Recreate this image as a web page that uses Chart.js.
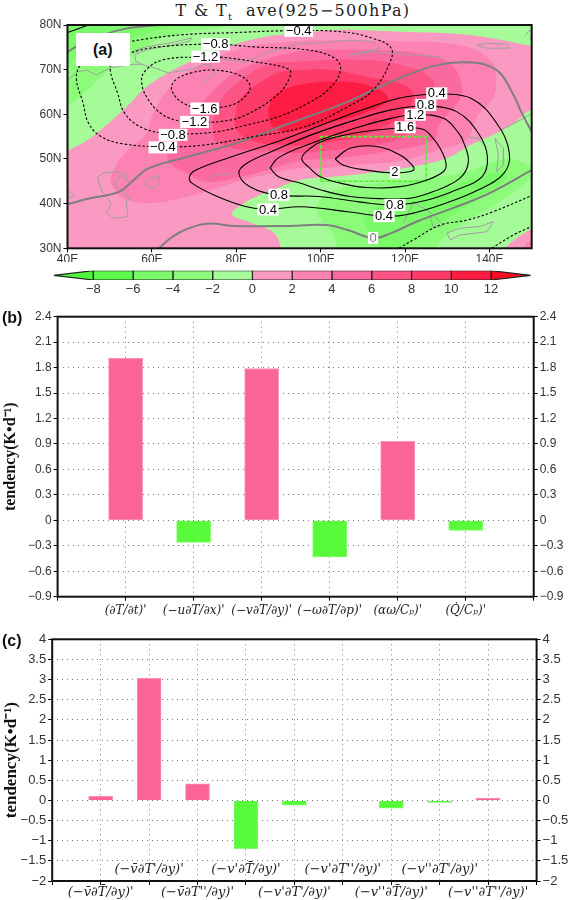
<!DOCTYPE html>
<html>
<head>
<meta charset="utf-8">
<title>T and Tt ave</title>
<script src="https://cdn.jsdelivr.net/npm/chart.js@4/dist/chart.umd.min.js"></script>
<style>
  body { margin: 0; background: #fff; width: 568px; height: 900px; position: relative; overflow: hidden; }
  canvas { position: absolute; left: 0; }
  .tag { position: absolute; font: bold 16px "Liberation Sans", sans-serif; color: #111; }
  #mapTitle { position: absolute; left: 0; width: 586px; top: 1px; text-align: center; white-space: pre; font: 16px "DejaVu Serif", serif; letter-spacing: 1.3px; color: #222; line-height: 19px; }
  #mapTitle sub { font-size: 10px; line-height: 0; }
  #boxA { position: absolute; left: 75.5px; top: 32.5px; width: 54.5px; height: 33.5px; background: #fff; text-align: center; font: bold 16px/33px "Liberation Sans", sans-serif; color: #111; }
</style>
</head>
<body>
<div id="mapTitle">T &amp; T<sub>t</sub>  ave(925−500hPa)</div>
<canvas id="mapChart" width="568" height="262" style="top:0"></canvas>
<canvas id="barScale" width="568" height="38" style="top:262px"></canvas>
<canvas id="chartB" width="568" height="320" style="top:300px"></canvas>
<canvas id="chartC" width="568" height="280" style="top:620px"></canvas>
<div id="boxA">(a)</div>
<div class="tag" style="left:2px;top:309px">(b)</div>
<div class="tag" style="left:2px;top:632px">(c)</div>

<script>
// colour bar
const shadeTicks = [-8, -6, -4, -2, 0, 2, 4, 6, 8, 10, 12];
const shadeColors = ['#5cf84a', '#7bfa69', '#8bfb79', '#a5fb98', '#fa9ac2', '#fb82b2', '#fb6a9e', '#fc5485', '#fd3a68', '#fe1c42'];
const shadeLow = '#4ff53c';
const shadeHigh = '#fd0a20';

// map axes
const lonTicks = [40, 60, 80, 100, 120, 140];
const latTicks = [30, 40, 50, 60, 70, 80];

// shaded regions, [lon, lat]
const paleGreen = [[30, 25], [160, 25], [160, 85], [30, 85], [30, 25]];
const greenTop2 = [[38, 60], [40, 61.6], [46.1, 66.6], [50.9, 70.7], [56.4, 73.7], [61.9, 77], [71.4, 78.9], [77.7, 80], [78, 83], [38, 83], [38, 60]];
const greenTop4 = [[38, 70], [40, 71], [43, 73.7], [55.2, 77], [60.3, 78.5], [65, 80], [65, 83], [38, 83], [38, 70]];
const greenLow2 = [[98.7, 39.3], [102.2, 42.7], [110.9, 44.3], [122.8, 45.3], [134.6, 47.2], [144.1, 50], [149.6, 48.3], [150, 46], [142.5, 40.5], [134.6, 36], [129.9, 33], [125.5, 29.6], [105, 29.6], [102.6, 33.7], [99.9, 36.7], [98.7, 39.3]];
const greenLow4 = [[110.1, 36.7], [112.9, 39.1], [119.6, 40.8], [129.1, 43.1], [137, 45.7], [143.3, 47.2], [144.1, 45.7], [137, 40.8], [129.9, 36.7], [123.6, 33], [118.8, 30], [114.1, 30.4], [111.7, 33], [110.1, 36.7]];
const pink0 = [[38, 50.5], [40, 51.8], [45.3, 54.6], [54, 61.7], [58.8, 66.2], [66.7, 70.7], [76.9, 74.8], [87.2, 77.4], [95.1, 78.1], [103, 78.9], [118.8, 78.5], [134.6, 77.8], [150, 75.3], [156, 74], [156, 62], [150, 61.1], [145.7, 58], [140.9, 55.4], [135.4, 53.1], [129.9, 50.2], [122, 48.3], [110.9, 46.8], [103, 46], [95.1, 45.3], [88.8, 43.1], [82.5, 40.5], [79, 37.6], [83.3, 35.8], [88, 34.1], [90, 31.9], [90, 28], [38, 28], [38, 50.5]];
const pinkCorner0 = [[143, 28], [143.5, 30], [150, 34.5], [156, 38], [156, 28], [143, 28]];
const pinkCorner2 = [[147.5, 28], [148, 30.2], [150, 31.7], [156, 34], [156, 28], [147.5, 28]];
const pink2 = [[50.1, 45.7], [52, 49.4], [55.2, 52.8], [58.4, 55.4], [60.3, 60.2], [65.1, 66.9], [72.2, 71.4], [80.1, 74.4], [88.8, 76], [103, 76.6], [118.8, 76.3], [133, 75.5], [140.2, 72.2], [141.5, 68.4], [141, 64], [137, 59.5], [134.6, 54.3], [129.1, 52.4], [118.8, 49.6], [107, 48.6], [99.9, 47.9], [95.1, 48], [84.8, 46], [77.7, 44.2], [71.4, 42.3], [65.1, 40.8], [59.5, 40.1], [53.2, 41.2], [50.5, 44.2], [50.1, 45.7]];
const pink4 = [[63.5, 51.3], [64.3, 49], [67.5, 47.2], [73, 44.9], [80.9, 46], [87.2, 47.5], [95.1, 49.6], [103, 50.1], [114.9, 51.6], [126.7, 54.2], [128.3, 58], [132.3, 62.5], [133.5, 66.2], [130.7, 71.4], [122.8, 73.7], [110.9, 74.4], [99.9, 74.4], [92.7, 73.7], [82.5, 70.7], [75.4, 66.2], [69, 58.7], [65.9, 54.5], [63.5, 51.3]];
const pink6 = [[74.6, 54.3], [74.6, 58], [75.5, 62], [79, 66], [87, 71], [95.1, 71.8], [109.9, 72.2], [120.2, 70.7], [126.2, 68.1], [126.7, 64.3], [124.5, 61], [121, 56], [114.9, 53.5], [103, 52], [95.1, 51.3], [88, 51.8], [78.9, 52.4], [74.6, 54.3]];
const pink8 = [[79.8, 60.2], [80.6, 63], [83.2, 65.5], [89.6, 69.2], [95.1, 69.9], [103, 69.9], [110.9, 68.4], [118.8, 66.9], [122, 64.3], [118.8, 59.5], [110.9, 55.6], [103, 53.9], [95.1, 53.1], [88, 53.3], [83.2, 54.3], [79.8, 56.9], [79.8, 60.2]];
const pink10 = [[87.5, 61], [89.2, 64.3], [95.3, 66.6], [105.6, 67.3], [113.3, 65.8], [115.9, 63.2], [109.9, 60.2], [101.3, 58], [91.8, 56.1], [88.4, 57.6], [87.5, 61]];

// dashed contours
const negA = [[62.6, 52.6], [53.1, 53.4], [48, 55], [45, 58], [43.7, 62.5], [42.1, 68.1], [43.3, 71.4], [47.1, 74.8], [54.7, 76.3], [66.9, 77.8], [79.8, 78.3], [91.8, 78.7], [104.7, 78.5], [112.4, 77], [116.7, 74.8], [116.3, 71.4], [112.4, 65.4], [106.4, 61.7], [96.1, 57.2], [84.1, 55], [72.1, 53.1], [62.6, 52.6]];
const negB = [[65, 55.4], [57.9, 56.9], [53.6, 60.2], [51.9, 64.7], [50.1, 70.3], [51.4, 72.2], [54.7, 73.7], [61.7, 75.1], [75.1, 75.7], [84.1, 75.1], [97, 74.4], [103.4, 72.5], [104.7, 69.9], [102.1, 65.8], [97, 62.5], [90.1, 59.5], [82.4, 57.6], [75.5, 56.1], [65, 55.4]];
const negC = [[72.7, 72.9], [62.6, 72.2], [58.3, 69.6], [57.6, 66.9], [59.2, 63.2], [62.6, 59.9], [66.9, 58.4], [70.1, 58.3], [76.4, 58.4], [82.4, 59.9], [90.1, 64.7], [92.7, 68.4], [92.5, 70.1], [84.1, 71.8], [76.4, 72.8], [72.7, 72.9]];
const negD = [[72.5, 61.3], [67.8, 62.3], [64.7, 65.4], [65.6, 67.7], [69.5, 69.3], [74.6, 69.9], [80.6, 68.8], [83.2, 66.6], [82.4, 64.3], [78.9, 62.1], [72.5, 61.3]];
const negE = [[118.5, 30], [122, 31.9], [128.3, 35.2], [134.6, 36.3], [140.9, 38.2], [150, 41.8]];
const negF = [[140.5, 30], [145.7, 33], [150, 34.9]];

// solid contours
const posA = [[127.5, 64.7], [135.6, 63.6], [141.7, 58], [144.7, 51.3], [143.4, 46.8], [137.4, 43.1], [129.6, 40.1], [120.2, 37.5], [115, 37.2], [106.4, 38.2], [95.3, 39.3], [87.5, 38.7], [82.4, 39.3], [75.5, 41.6], [69.5, 44.6], [68.9, 46], [70.3, 47.5], [78.9, 50.5], [91, 54.3], [101.3, 58], [109.9, 61], [118.5, 63.6], [127.5, 64.7]];
const posB = [[124.9, 62.1], [132.2, 60.6], [137.4, 55.7], [139.5, 50.5], [138.2, 46], [132.2, 43.1], [125.3, 40.8], [117.6, 39.7], [109, 40.4], [99.6, 41.6], [90.1, 41.9], [83.2, 43.8], [80.6, 46.8], [82.4, 49], [89.2, 52], [97.8, 55.4], [108.1, 58.7], [116.7, 61], [124.9, 62.1]];
const posC = [[88, 48], [90, 50.3], [97.8, 53.5], [108, 56.9], [116.7, 59.1], [122.4, 59.9], [129.1, 59.1], [132.7, 55.8], [133.8, 53.9], [135, 49.4], [133, 45.7], [126.7, 42.7], [121.2, 41.2], [114.9, 41.1], [107, 41.6], [99.9, 43.1], [95.1, 44.6], [90, 46], [88, 48]];
const posD = [[120, 57.1], [124.4, 56.6], [126.3, 55], [128.3, 52.4], [129.7, 49], [129.1, 47.2], [125.2, 45.3], [118.8, 43.8], [110.9, 43.6], [104.6, 44.6], [99.9, 46], [97.5, 47.9], [95.5, 50.1], [97.5, 52.4], [101.3, 54.3], [109.9, 56.1], [120, 57.1]];
const posE = [[103.4, 50], [107, 52.4], [113.3, 52.8], [118.8, 50.9], [121.6, 48.7], [122, 47.5], [117.5, 46.9], [110.9, 47.5], [105.4, 48.6], [103.4, 50]];
const posCorner = [[40, 78.3], [45, 80]];

// zero contours
const zeroMain = [[40, 39.9], [45.4, 41.2], [52.3, 42.7], [55.7, 45.3], [59.2, 47.9], [66.9, 50.1], [79.8, 53.5], [92.7, 58], [105.6, 62.5], [116.7, 67.3], [127.1, 70.9], [135.6, 71.6], [141.7, 69.9], [145.1, 65.4], [147.7, 60.2], [150, 56.1]];
const zeroLow = [[61.7, 30], [64.3, 32.2], [67.8, 34.1], [72.9, 35.5], [79.8, 35], [92.7, 35], [101.3, 35.2], [106.4, 34.1], [112.4, 32.3], [116.7, 33.4], [122.8, 36], [131.3, 39], [139.9, 42.3], [150, 47.5]];
const zeroTop = [[40, 74], [42.2, 75.2], [48.5, 77.8], [54.4, 79.3], [61.9, 80]];

// coast and lakes
const coastLines = [
  [[55.2, 74], [59, 75.2], [64.6, 76], [69.4, 77.1], [69, 76.4], [65.4, 75.6], [59, 74.5], [55.9, 73.4], [56.2, 71.9], [57.5, 71.2], [60.6, 70.4], [63.8, 69.3], [67, 69.7], [70.2, 70.4], [72.6, 71.2], [74.1, 70.8], [75, 69], [73.4, 68.2], [72.6, 67]],
  [[40, 67.6], [42.2, 69.5], [44.5, 69.9], [46.9, 68.8], [50.1, 70.4], [55.6, 71.2], [58, 71.2]],
  [[75.4, 72.7], [81.7, 71.6], [87.2, 73.8], [95.1, 75.9]],
  [[95.1, 75.9], [99, 75.9], [107, 76.6], [112.5, 76.2], [114, 74.8], [107, 73.3], [112.5, 74], [118.8, 73.6], [123.5, 73.2], [128.3, 72.9], [129.5, 71.4], [134.6, 71.8], [139.4, 71.4]],
  [[137, 75.5], [139.4, 75.9], [144.1, 75.7], [144.9, 74.8], [139.4, 74.8], [137, 75.5]],
  [[148.5, 77.7], [149.5, 78.8], [150, 78.1], [149.7, 76.6]],
  [[150, 60.1], [145.7, 57.9], [142.5, 56.4]],
  [[47.1, 46], [48.4, 46.8], [51.5, 47.2], [53.9, 46.4], [54.3, 45], [52.5, 46.4], [51, 44.2], [53.9, 41.9], [55, 41.2], [53.9, 40.4], [54.3, 37.1], [51.2, 36.7], [49.2, 37.8], [50.4, 40], [48, 43], [47.1, 46]],
  [[58.4, 44.9], [61.5, 46.4], [61.9, 44.9], [60.4, 43.4], [58.4, 44.2], [58.4, 44.9]],
  [[73.6, 45.7], [75.4, 46.6], [79.3, 46.6]],
  [[40, 43], [41.6, 41.9], [40, 40.8]],
  [[135, 55], [137.5, 54.6], [139.4, 52.4]],
  [[141.3, 54.6], [143.3, 52.4], [143.3, 48.7], [141.7, 47.2], [142.1, 50.9], [141.3, 54.6]],
  [[119.6, 35.6], [122, 40.4], [126.3, 37.8], [129.1, 35.2], [126.7, 34.5], [125.9, 37.4]],
  [[129.9, 33.4], [133, 34.5], [137.8, 34.9], [140.9, 36], [139.4, 33.7], [133, 33], [130.7, 31.9], [129.9, 33.4]]
];

// contour labels
const labelText = ['−0.4', '−0.8', '−1.2', '−1.6', '−1.2', '−0.8', '−0.4', '0.4', '0.8', '1.2', '1.6', '2', '0.8', '0.4', '0.8', '0.4', '0'];
const labelLon = [94.8, 75.1, 72.7, 72.5, 70.1, 65, 62.6, 127.5, 124.9, 122.4, 120, 117.6, 90.1, 87.5, 117.6, 115, 112.4];
const labelLat = [78.7, 75.7, 72.9, 61.3, 58.3, 55.4, 52.6, 64.7, 62.1, 59.9, 57.1, 47, 42, 38.7, 39.7, 37.2, 32.3];

// study box
const studyBox = [[100, 45], [125, 45], [125, 55], [100, 55], [100, 45]];

// panel b
const labelsB = ['(∂T/∂t)\'', '(−u∂T/∂x)\'', '(−v∂T/∂y)\'', '(−ω∂T/∂p)\'', '(αω/Cₚ)\'', '(Q̇/Cₚ)\''];
const valuesB = [1.91, -0.26, 1.79, -0.43, 0.93, -0.12];
const ticksB = [-0.9, -0.6, -0.3, 0, 0.3, 0.6, 0.9, 1.2, 1.5, 1.8, 2.1, 2.4];

// panel c
const labelsC = ['(−v̄∂T̄/∂y)\'', '(−v̄∂T\'/∂y)\'', '(−v̄∂T\'\'/∂y)\'', '(−v\'∂T̄/∂y)\'', '(−v\'∂T\'/∂y)\'', '(−v\'∂T\'\'/∂y)\'', '(−v\'\'∂T̄/∂y)\'', '(−v\'\'∂T\'/∂y)\'', '(−v\'\'∂T\'\'/∂y)\''];
const valuesC = [0.1, 3.03, 0.41, -1.2, -0.12, -0.015, -0.19, -0.05, 0.05];
const ticksC = [-2, -1.5, -1, -0.5, 0, 0.5, 1, 1.5, 2, 2.5, 3, 3.5, 4];

const PINK = '#fb6499';
const GREEN = '#57fb3a';
const TICK_TEXT = '#333';
const sansFont = { family: '"Liberation Sans", sans-serif', size: 12 };

const pts = list => list.map(([x, y]) => ({ x, y }));
const minusSign = v => String(v).replace('-', '−');
const fixTicks = values => scale => { scale.ticks = values.map(value => ({ value })); };

const frame = {
    id: 'frame',
    afterDatasetsDraw(chart) {
        const { ctx, chartArea: a } = chart;
        ctx.save();
        ctx.strokeStyle = '#111';
        ctx.lineWidth = 2;
        ctx.strokeRect(a.left, a.top, a.right - a.left, a.bottom - a.top);
        ctx.restore();
    }
};

// ---- map
const shade = (data, color) => ({ data: pts(data), showLine: true, fill: 'shape', backgroundColor: color, borderWidth: 0, pointRadius: 0, tension: 0.4 });
const contour = (data, dash) => ({ data: pts(data), showLine: true, borderColor: '#000', borderWidth: 1.1, borderDash: dash, pointRadius: 0, tension: 0.4 });
const zero = data => ({ data: pts(data), showLine: true, borderColor: '#7f7f7f', borderWidth: 2, pointRadius: 0, tension: 0.4 });

const mapSets = [
    shade(paleGreen, shadeColors[3]),
    shade(greenTop2, shadeColors[2]),
    shade(greenTop4, shadeColors[1]),
    shade(greenLow2, shadeColors[2]),
    shade(greenLow4, shadeColors[1]),
    shade(pink0, shadeColors[4]),
    shade(pinkCorner0, shadeColors[4]),
    shade(pinkCorner2, shadeColors[5]),
    shade(pink2, shadeColors[5]),
    shade(pink4, shadeColors[6]),
    shade(pink6, shadeColors[7]),
    shade(pink8, shadeColors[8]),
    shade(pink10, shadeColors[9])
];
coastLines.forEach(line => {
    mapSets.push({ data: pts(line), showLine: true, borderColor: '#a0a0a0', borderWidth: 1, pointRadius: 0, tension: 0 });
});
mapSets.push({ data: pts(studyBox), showLine: true, borderColor: '#55ee33', borderWidth: 1.6, borderDash: [4, 1.5], pointRadius: 0, tension: 0 });
[zeroMain, zeroLow, zeroTop].forEach(line => mapSets.push(zero(line)));
[negA, negB, negC, negD, negE, negF].forEach(line => mapSets.push(contour(line, [2.5, 2])));
[posA, posB, posC, posD, posE, posCorner].forEach(line => mapSets.push(contour(line, [])));

const contourLabels = {
    id: 'contourLabels',
    afterDatasetsDraw(chart) {
        const { ctx, scales } = chart;
        ctx.save();
        ctx.font = '13px "Liberation Sans", sans-serif';
        ctx.textAlign = 'center';
        ctx.textBaseline = 'middle';
        labelText.forEach((text, i) => {
            const x = scales.x.getPixelForValue(labelLon[i]);
            const y = scales.y.getPixelForValue(labelLat[i]);
            const w = ctx.measureText(text).width + 3;
            ctx.fillStyle = '#fff';
            ctx.fillRect(x - w / 2, y - 6, w, 12);
            ctx.fillStyle = text === '0' ? '#808080' : '#000';
            ctx.fillText(text, x, y + 0.5);
        });
        ctx.restore();
    }
};

new Chart(document.getElementById('mapChart'), {
    type: 'scatter',
    data: { datasets: mapSets.reverse() },
    plugins: [contourLabels, frame],
    options: {
        responsive: false,
        animation: false,
        layout: { autoPadding: false, padding: { top: 25, right: 36.3 } },
        elements: { line: { capBezierPoints: false } },
        plugins: { legend: { display: false }, tooltip: { enabled: false } },
        scales: {
            x: {
                type: 'linear', min: 40, max: 150,
                afterBuildTicks: fixTicks(lonTicks),
                afterFit: s => { s.height = 13.7; },
                grid: { drawOnChartArea: false, tickLength: 4, tickColor: '#000' },
                border: { display: false },
                ticks: { callback: v => v + 'E', font: sansFont, color: TICK_TEXT, padding: 0, maxRotation: 0, autoSkip: false }
            },
            y: {
                type: 'linear', min: 30, max: 80,
                afterBuildTicks: fixTicks(latTicks),
                afterFit: s => { s.width = 67.5; },
                grid: { drawOnChartArea: false, tickLength: 4, tickColor: '#000' },
                border: { display: false },
                ticks: { callback: v => v + 'N', font: sansFont, color: TICK_TEXT, padding: 2 }
            }
        }
    }
});

// ---- colour bar
const cellSets = [];
shadeColors.forEach((color, i) => {
    const a = shadeTicks[i], b = shadeTicks[i + 1];
    cellSets.push({ data: pts([[a, 0], [b, 0], [b, 1], [a, 1], [a, 0]]), showLine: true, fill: 'shape', backgroundColor: color, borderColor: '#222', borderWidth: 1.2, pointRadius: 0 });
});
cellSets.push({ data: pts([[-10, 0.5], [-8, 0], [-8, 1], [-10, 0.5]]), showLine: true, fill: 'shape', backgroundColor: shadeLow, borderColor: '#222', borderWidth: 1.2, pointRadius: 0 });
cellSets.push({ data: pts([[14, 0.5], [12, 0], [12, 1], [14, 0.5]]), showLine: true, fill: 'shape', backgroundColor: shadeHigh, borderColor: '#222', borderWidth: 1.2, pointRadius: 0 });

new Chart(document.getElementById('barScale'), {
    type: 'scatter',
    data: { datasets: cellSets },
    options: {
        responsive: false,
        animation: false,
        layout: { autoPadding: false, padding: { top: 8.7, left: 53.6, right: 37.2 } },
        plugins: { legend: { display: false }, tooltip: { enabled: false } },
        scales: {
            x: {
                type: 'linear', min: -10, max: 14,
                afterBuildTicks: fixTicks(shadeTicks),
                afterFit: s => { s.height = 20; },
                grid: { display: false, drawTicks: false },
                border: { display: false },
                ticks: { callback: minusSign, font: { ...sansFont, size: 13 }, color: TICK_TEXT, padding: 2, maxRotation: 0, autoSkip: false }
            },
            y: { type: 'linear', min: 0, max: 1, display: false }
        }
    }
});

// ---- bar panels
function barPanel(id, opts) {
    const grid = { color: '#7a7a7a', tickColor: '#000', tickLength: 4, tickBorderDash: [], lineWidth: 1 };
    const dots = { display: false, dash: [1, 4] };
    const slots = ['', ...opts.labels, ''];
    const yFont = { ...sansFont, size: opts.tickSize };
    return new Chart(document.getElementById(id), {
        type: 'bar',
        data: {
            labels: slots,
            datasets: [{
                data: [null, ...opts.values, null],
                backgroundColor: [null, ...opts.values.map(v => v >= 0 ? PINK : GREEN)],
                borderColor: [null, ...opts.values.map(v => v >= 0 ? '#fb8fb8' : '#7efb68')],
                borderWidth: 1,
                barThickness: opts.barWidth
            }]
        },
        plugins: [frame, ...(opts.plugins || [])],
        options: {
            responsive: false,
            animation: false,
            layout: { autoPadding: false, padding: { top: opts.top } },
            plugins: { legend: { display: false }, tooltip: { enabled: false } },
            scales: {
                x: {
                    offset: false,
                    afterFit: s => { s.height = opts.bottom; },
                    grid: { ...grid, offset: false },
                    border: dots,
                    ticks: {
                        callback: opts.tickLabel, font: { family: '"DejaVu Serif", serif', style: 'italic', size: opts.labelSize },
                        color: '#222', padding: opts.labelPad, maxRotation: 0, autoSkip: false
                    }
                },
                y: {
                    min: opts.ticks[0], max: opts.ticks[opts.ticks.length - 1],
                    afterBuildTicks: fixTicks(opts.ticks),
                    afterFit: s => { s.width = opts.left; },
                    grid,
                    border: dots,
                    title: { display: true, text: 'tendency(K•d⁻¹)', font: { family: '"Liberation Serif", serif', weight: 'bold', size: opts.titleSize }, color: '#111', padding: { top: 1, bottom: 0 } },
                    ticks: { callback: minusSign, font: yFont, color: TICK_TEXT, padding: 2 }
                },
                y2: {
                    position: 'right',
                    min: opts.ticks[0], max: opts.ticks[opts.ticks.length - 1],
                    afterBuildTicks: fixTicks(opts.ticks),
                    afterFit: s => { s.width = opts.right; },
                    grid: { ...grid, drawOnChartArea: false },
                    border: { display: false },
                    ticks: { callback: minusSign, font: yFont, color: TICK_TEXT, padding: 2 }
                }
            }
        }
    });
}

barPanel('chartB', {
    labels: labelsB, values: valuesB, ticks: ticksB,
    top: 16.7, bottom: 23.3, left: 57.6, right: 34.3, barWidth: 34,
    labelSize: 12, labelPad: 3, tickSize: 12, titleSize: 16,
    tickLabel(v) { return this.getLabelForValue(v); }
});

const upperRow = {
    id: 'upperRow',
    afterDatasetsDraw(chart) {
        const { ctx, scales } = chart;
        ctx.save();
        ctx.font = 'italic 13px "DejaVu Serif", serif';
        ctx.fillStyle = '#222';
        ctx.textAlign = 'center';
        ctx.textBaseline = 'middle';
        labelsC.forEach((text, i) => {
            if (i % 2 === 1) ctx.fillText(text, scales.x.getPixelForTick(i + 1), scales.y.bottom - 11);
        });
        ctx.restore();
    }
};

barPanel('chartC', {
    labels: labelsC, values: valuesC, ticks: ticksC,
    top: 19.3, bottom: 19, left: 52.2, right: 31.4, barWidth: 24,
    labelSize: 13, labelPad: 0, tickSize: 13, titleSize: 17,
    plugins: [upperRow],
    tickLabel(v, i) { return i % 2 === 1 ? this.getLabelForValue(v) : ''; }
});
</script>
</body>
</html>
